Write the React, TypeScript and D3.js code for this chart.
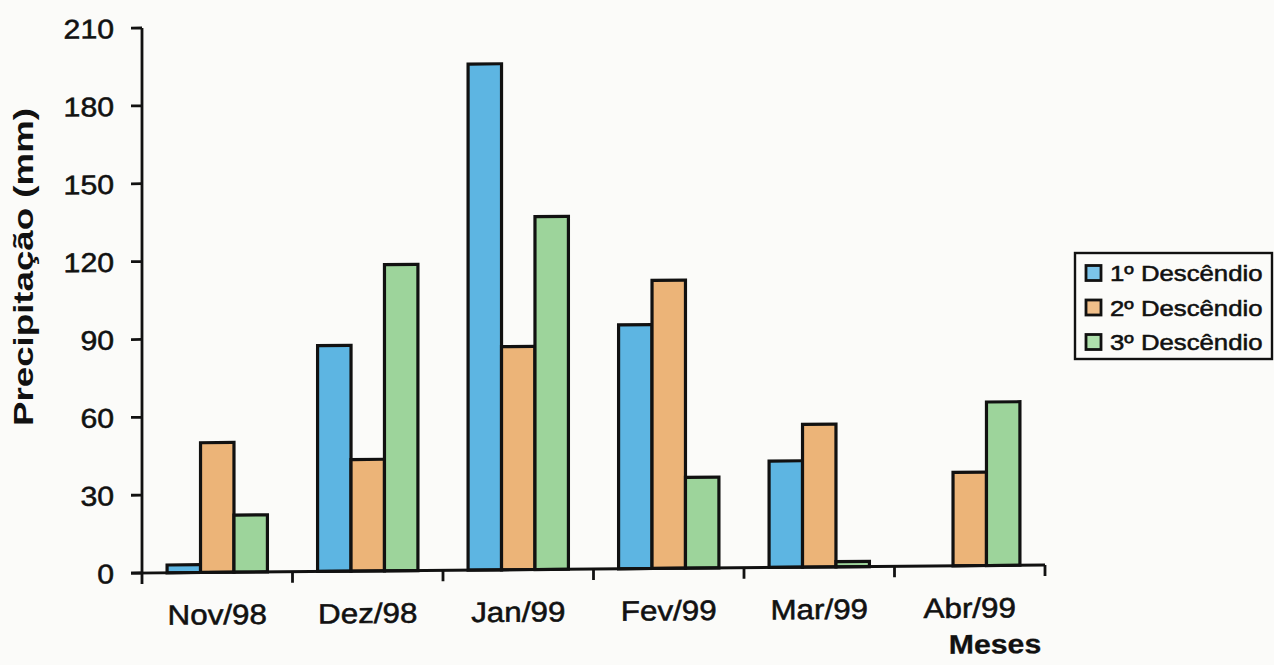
import React from "react";
import * as d3 from "d3";

const months = ["Nov/98", "Dez/98", "Jan/99", "Fev/99", "Mar/99", "Abr/99"];
const seriesNames = ["1º Descêndio", "2º Descêndio", "3º Descêndio"];
const desc1 = [3, 87, 195, 94, 41, 0];
const desc2 = [50, 43, 86, 111, 55, 36];
const desc3 = [22, 118, 136, 35, 2, 63];
const yTicks = [0, 30, 60, 90, 120, 150, 180, 210];
const colors = ["#5db5e2", "#ecb478", "#9dd49b"];
const legendColors = ["#7cc4ea", "#f0bf8a", "#aee0ac"];

const W = 1274;
const H = 665;
const X0 = 142;
const X1 = 1045;
const Y0 = 573;
const YTOP = 28;
const FONT = "'Liberation Sans', Arial, Helvetica, sans-serif";
const SX = 1.12;

function SText({ x, y, children, anchor = "middle", size = 27, weight = "normal", rotate = 0 }: any) {
  return (
    <g transform={`translate(${x},${y}) rotate(${rotate}) scale(${SX},1)`}>
      <text
        textAnchor={anchor}
        fontFamily={FONT}
        fontSize={size}
        fontWeight={weight}
        fill="#111"
        stroke="#111"
        strokeWidth={weight === "bold" ? 0.3 : 0.55}
      >
        {children}
      </text>
    </g>
  );
}

export default function App() {
  const series = [desc1, desc2, desc3];
  const x0 = d3.scaleBand<string>().domain(months).range([X0, X1]).padding(0);
  const x1 = d3
    .scaleBand<number>()
    .domain([0, 1, 2])
    .range([0, x0.bandwidth()])
    .paddingInner(0)
    .paddingOuter(0.75);
  const y = d3.scaleLinear().domain([0, 210]).range([Y0, YTOP]);
  const skew = (Math.atan(-8 / (X1 - X0)) * 180) / Math.PI;
  const boundaries = [...months.map((m) => x0(m) as number), X1];

  return (
    <svg width={W} height={H} style={{ position: "absolute", left: 0, top: 0, background: "#fbfbf9" }}>
      <rect x={0} y={0} width={W} height={H} fill="#fbfbf9" />
      <g transform={`translate(${X0},${Y0}) skewY(${skew}) translate(${-X0},${-Y0})`}>
        {/* bars */}
        {months.map((m, i) => (
          <g key={m}>
            {series.map((s, j) =>
              s[i] > 0 ? (
                <rect
                  key={j}
                  x={(x0(m) as number) + (x1(j) as number)}
                  y={y(s[i])}
                  width={x1.bandwidth()}
                  height={Y0 - y(s[i])}
                  fill={colors[j]}
                  stroke="#111"
                  strokeWidth={3.2}
                />
              ) : null
            )}
          </g>
        ))}
        {/* y axis */}
        <line x1={X0} x2={X0} y1={YTOP} y2={Y0} stroke="#111" strokeWidth={2.8} />
        {yTicks.map((t) => (
          <g key={t}>
            <line x1={X0 - 11} x2={X0} y1={y(t)} y2={y(t)} stroke="#111" strokeWidth={2.8} />
            <SText x={114} y={y(t) + 10} anchor="end" size={27}>
              {t}
            </SText>
          </g>
        ))}
        {/* x axis */}
        <line x1={X0 - 11} x2={X1} y1={Y0} y2={Y0} stroke="#111" strokeWidth={2.8} />
        {boundaries.map((b, i) => (
          <line key={i} x1={b} x2={b} y1={Y0} y2={Y0 + 11} stroke="#111" strokeWidth={2.8} />
        ))}
        {months.map((m) => (
          <SText key={m} x={(x0(m) as number) + x0.bandwidth() / 2} y={625} size={28}>
            {m}
          </SText>
        ))}
        <SText x={995} y={661} size={27} weight="bold">
          Meses
        </SText>
      </g>
      {/* y title */}
      <g transform={`translate(33,267) rotate(-90)`}>
        <text
          textAnchor="middle"
          fontFamily={FONT}
          fontSize={27}
          fontWeight="bold"
          fill="#111"
          textLength={318}
          lengthAdjust="spacingAndGlyphs"
        >
          Precipitação (mm)
        </text>
      </g>
      {/* legend */}
      <rect x={1075} y={253} width={197} height={106} fill="none" stroke="#111" strokeWidth={2.4} />
      {seriesNames.map((n, i) => {
        const cy = 273 + i * 34.5;
        return (
          <g key={n}>
            <rect x={1086} y={cy - 7.5} width={15} height={15} fill={legendColors[i]} stroke="#111" strokeWidth={2.8} />
            <SText x={1110} y={cy + 8} anchor="start" size={23}>
              {n}
            </SText>
          </g>
        );
      })}
    </svg>
  );
}
